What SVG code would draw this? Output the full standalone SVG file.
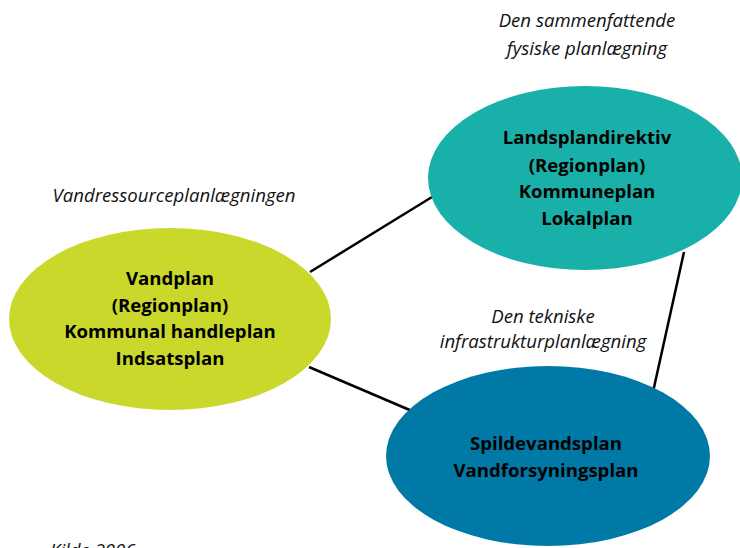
<svg xmlns="http://www.w3.org/2000/svg" width="740" height="548" viewBox="0 0 740 548">
<style>
.n{font-family:"Open Sans","Liberation Sans",sans-serif;font-weight:700;font-size:18.6px;fill:#000;text-anchor:middle}
.l{font-family:"Open Sans","Liberation Sans",sans-serif;font-style:italic;font-size:18.6px;fill:#111;text-anchor:middle}
.c{stroke:#000;stroke-width:2.5;fill:none}
</style>
<rect width="740" height="548" fill="#fff"/>
<g id="connectors">
<line class="c" x1="310" y1="272" x2="432" y2="197"/>
<line class="c" x1="309" y1="367" x2="412" y2="411"/>
<line class="c" x1="684" y1="252" x2="653" y2="392"/>
</g>
<g id="vand">
<ellipse cx="170" cy="319" rx="161" ry="91" fill="#c9d82b"/>
<text class="n" x="170" y="285">Vandplan</text>
<text class="n" x="170" y="312">(Regionplan)</text>
<text class="n" x="170" y="338">Kommunal handleplan</text>
<text class="n" x="170" y="365">Indsatsplan</text>
</g>
<g id="lands">
<ellipse cx="585" cy="178" rx="157" ry="92" fill="#19b0a9"/>
<text class="n" x="587" y="144">Landsplandirektiv</text>
<text class="n" x="587" y="172">(Regionplan)</text>
<text class="n" x="587" y="198">Kommuneplan</text>
<text class="n" x="587" y="225">Lokalplan</text>
</g>
<g id="spild">
<ellipse cx="548" cy="456" rx="162" ry="90" fill="#0079a6"/>
<text class="n" x="546" y="450">Spildevandsplan</text>
<text class="n" x="546" y="477">Vandforsyningsplan</text>
</g>
<g id="labels">
<text class="l" x="587" y="27">Den sammenfattende</text>
<text class="l" x="587" y="55">fysiske planlægning</text>
<text class="l" x="174" y="202">Vandressourceplanlægningen</text>
<text class="l" x="543" y="323">Den tekniske</text>
<text class="l" x="543" y="348">infrastrukturplanlægning</text>
<text class="l" x="50" y="557" style="text-anchor:start">Kilde 2006</text>
</g>
</svg>
